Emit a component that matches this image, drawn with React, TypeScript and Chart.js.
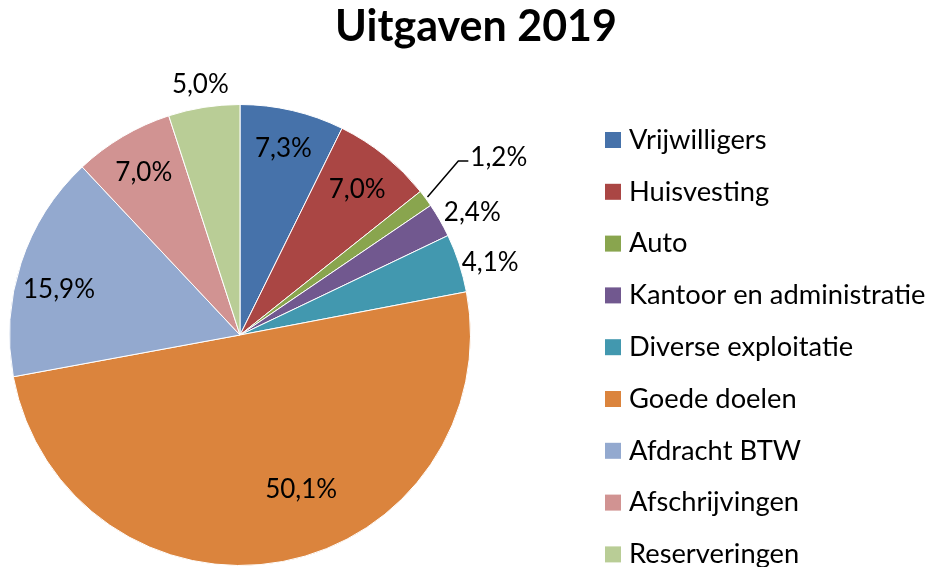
import React, { useEffect, useRef } from "react";
import { Chart, registerables } from "chart.js";

Chart.register(...registerables);

const title = "Uitgaven 2019";
const categories = [
  "Vrijwilligers",
  "Huisvesting",
  "Auto",
  "Kantoor en administratie",
  "Diverse exploitatie",
  "Goede doelen",
  "Afdracht BTW",
  "Afschrijvingen",
  "Reserveringen",
];
const values = [7.3, 7.0, 1.2, 2.4, 4.1, 50.1, 15.9, 7.0, 5.0];
const colors = [
  "#4672AA",
  "#AA4644",
  "#89A54E",
  "#71588F",
  "#4298AF",
  "#DB843D",
  "#93A9CF",
  "#D19392",
  "#B9CD96",
];
// label placement style: radius factor & angle shift (degrees)
const labelRadius = [0.83, 0.81, 1.36, 1.14, 1.13, 0.72, 0.81, 0.82, 1.1];
const labelShift = [0, 0, 2, 2, 2, -11, -4, 0, 0];
const leader = [false, false, true, false, false, false, false, false, false];

const FONT = "Lato, 'Open Sans', sans-serif";

const fmt = (v: number) => v.toFixed(1).replace(".", ",") + "%";

function fitFont(ctx: CanvasRenderingContext2D, weight: string, text: string, target: number) {
  ctx.font = `${weight} 20px ${FONT}`;
  const w = ctx.measureText(text).width;
  const size = (20 * target) / w;
  ctx.font = `${weight} ${size.toFixed(1)}px ${FONT}`;
}

const overlay = {
  id: "overlay",
  afterDraw(chart: any) {
    const ctx = chart.ctx as CanvasRenderingContext2D;
    const meta = chart.getDatasetMeta(0);
    ctx.save();
    // title
    ctx.fillStyle = "#000";
    fitFont(ctx, "bold", title, 282);
    ctx.textAlign = "center";
    ctx.textBaseline = "middle";
    ctx.fillText(title, 476, 27);
    // labels
    fitFont(ctx, "normal", "50,1%", 72);
    meta.data.forEach((arc: any, i: number) => {
      const { x, y, startAngle, endAngle, outerRadius } = arc.getProps(
        ["x", "y", "startAngle", "endAngle", "outerRadius"],
        true
      );
      const mid = (startAngle + endAngle) / 2 + (labelShift[i] * Math.PI) / 180;
      const r = outerRadius * labelRadius[i];
      const lx = x + Math.cos(mid) * r;
      const ly = y + Math.sin(mid) * r;
      const text = fmt(values[i]);
      ctx.fillStyle = "#000";
      ctx.textAlign = "center";
      ctx.textBaseline = "middle";
      ctx.fillText(text, lx, ly);
      if (leader[i]) {
        const m0 = (startAngle + endAngle) / 2;
        const w = ctx.measureText(text).width;
        ctx.strokeStyle = "#000";
        ctx.lineWidth = 1.5;
        ctx.beginPath();
        ctx.moveTo(x + Math.cos(m0) * outerRadius * 1.01, y + Math.sin(m0) * outerRadius * 1.01);
        ctx.lineTo(lx - w / 2 - 12, ly + 3);
        ctx.lineTo(lx - w / 2 - 2, ly + 3);
        ctx.stroke();
      }
    });
    // legend
    fitFont(ctx, "normal", "Kantoor en administratie", 296);
    ctx.textAlign = "left";
    ctx.textBaseline = "middle";
    categories.forEach((c, i) => {
      const cy = 140 + i * 51.8;
      ctx.fillStyle = colors[i];
      ctx.fillRect(605, cy - 8, 16, 16);
      ctx.fillStyle = "#000";
      ctx.fillText(c, 629, cy);
    });
    ctx.restore();
  },
};

export default function App() {
  const ref = useRef<HTMLCanvasElement>(null);
  useEffect(() => {
    const chart = new Chart(ref.current!, {
      type: "pie",
      data: {
        labels: categories,
        datasets: [
          {
            data: values,
            backgroundColor: colors,
            borderColor: "#FFFFFF",
            borderWidth: 1,
          },
        ],
      },
      options: {
        animation: false,
        responsive: false,
        maintainAspectRatio: false,
        layout: { padding: { left: 9, top: 104, right: 457, bottom: 1 } },
        plugins: {
          legend: { display: false },
          tooltip: { enabled: false },
          title: { display: false },
        },
      },
      plugins: [overlay],
    });
    return () => chart.destroy();
  }, []);
  return (
    <div style={{ position: "fixed", left: 0, top: 0, width: 928, height: 567, background: "#fff" }}>
      <canvas ref={ref} width={928} height={567} />
    </div>
  );
}
